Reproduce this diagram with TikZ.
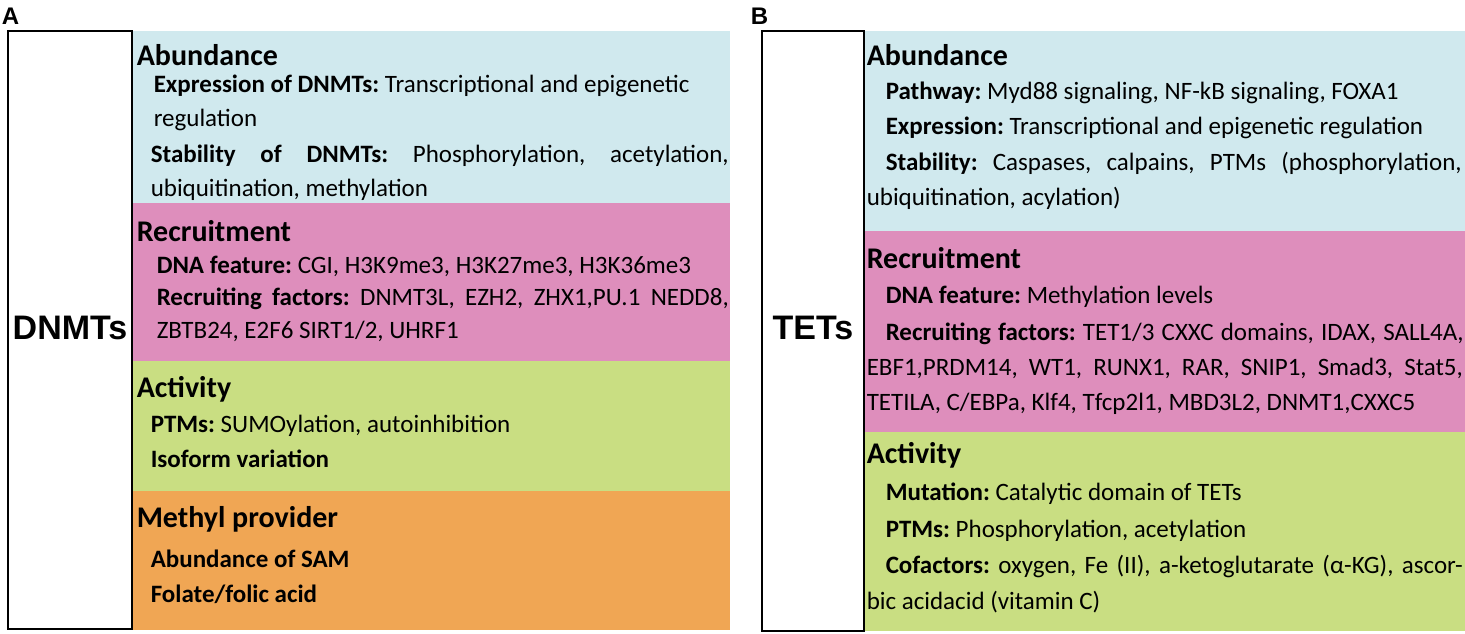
\documentclass[tikz,border=0pt]{standalone}
\usepackage{fontspec}
\setmainfont{Carlito}
\newfontfamily\arialfont{Liberation Sans}
\frenchspacing

\definecolor{abundcol}{HTML}{D0E9EE}
\definecolor{recruitcol}{HTML}{DE8EBC}
\definecolor{activcol}{HTML}{C9DE82}
\definecolor{methylcol}{HTML}{F0A654}

\tikzset{every picture/.style={line width=0.75pt}}
\tikzset{
  headtxt/.style={anchor=base west, inner sep=0pt, font=\fontsize{15}{18}\selectfont\bfseries},
  bodytxt/.style={anchor=base west, inner sep=0pt, font=\fontsize{12.5}{15}\selectfont},
  enzymetxt/.style={inner sep=0pt, font=\arialfont\fontsize{17}{20}\selectfont\bfseries},
  paneltxt/.style={anchor=base west, inner sep=0pt, font=\arialfont\fontsize{12}{14}\selectfont\bfseries},
  enzymebox/.style={draw=black, line width=1pt, fill=white}
}

\begin{document}
\begin{tikzpicture}[x=0.5pt,y=0.5pt,yscale=-1,xscale=1]
\path (0,0) rectangle (1465,633); %set diagram size 1465 x 633

%Shape: Rectangle (panel A bands)
\fill [abundcol] (132,31) rectangle (730,203) ;
\fill [recruitcol] (132,203) rectangle (730,361) ;
\fill [activcol] (132,361) rectangle (730,491) ;
\fill [methylcol] (132,491) rectangle (730,630) ;
%Shape: Rectangle (panel A enzyme box)
\draw [enzymebox] (8,31) rectangle (132,629) ;

%Shape: Rectangle (panel B bands)
\fill [abundcol] (864,31) rectangle (1465,231) ;
\fill [recruitcol] (864,231) rectangle (1465,432) ;
\fill [activcol] (864,432) rectangle (1465,631) ;
%Shape: Rectangle (panel B enzyme box)
\draw [enzymebox] (762,31) rectangle (864,631) ;

% Text Node
\draw (1,24) node (panA) [paneltxt] {A};
% Text Node
\draw (750,24) node (panB) [paneltxt] {B};
% Text Node
\draw (70,328) node (dnmts) [enzymetxt] {DNMTs};
% Text Node
\draw (813,328) node (tets) [enzymetxt] {TETs};

% Text Node
\draw (136,65) node (abA) [headtxt] {Abundance};
% Text Node
\draw (153,92) node (exprA) [bodytxt] {\textbf{Expression of DNMTs:} Transcriptional and epigenetic};
% Text Node
\draw (153,126) node (exprAb) [bodytxt] {regulation};
% Text Node
\draw (150,162) node (stabA) [bodytxt] {\makebox[289pt][s]{\textbf{Stability of DNMTs:} Phosphorylation, acetylation,}};
% Text Node
\draw (150,196) node (stabAb) [bodytxt] {ubiquitination, methylation};

% Text Node
\draw (136,241) node (recA) [headtxt] {Recruitment};
% Text Node
\draw (156,273) node (dnaA) [bodytxt] {\textbf{DNA feature:} CGI, H3K9me3, H3K27me3, H3K36me3};
% Text Node
\draw (156,305) node (rfA) [bodytxt] {\makebox[286pt][s]{\textbf{Recruiting factors:} DNMT3L, EZH2, ZHX1,PU.1 NEDD8,}};
% Text Node
\draw (156,338) node (rfAb) [bodytxt] {ZBTB24, E2F6 SIRT1/2, UHRF1};

% Text Node
\draw (136,397) node (actA) [headtxt] {Activity};
% Text Node
\draw (150,432) node (ptmA) [bodytxt] {\textbf{PTMs:} SUMOylation, autoinhibition};
% Text Node
\draw (150,467) node (isoA) [bodytxt] {\textbf{Isoform variation}};

% Text Node
\draw (136,527) node (metA) [headtxt] {Methyl provider};
% Text Node
\draw (150,567) node (samA) [bodytxt] {\textbf{Abundance of SAM}};
% Text Node
\draw (150,602) node (folA) [bodytxt] {\textbf{Folate/folic acid}};

% Text Node
\draw (866,65) node (abB) [headtxt] {Abundance};
% Text Node
\draw (885,99) node (pathB) [bodytxt] {\textbf{Pathway:} Myd88 signaling, NF-kB signaling, FOXA1};
% Text Node
\draw (885,134) node (exprB) [bodytxt] {\textbf{Expression:} Transcriptional and epigenetic regulation};
% Text Node
\draw (885,170) node (stabB) [bodytxt] {\makebox[288pt][s]{\textbf{Stability:} Caspases, calpains, PTMs (phosphorylation,}};
% Text Node
\draw (866,205) node (stabBb) [bodytxt] {ubiquitination, acylation)};

% Text Node
\draw (866,268) node (recB) [headtxt] {Recruitment};
% Text Node
\draw (885,303) node (dnaB) [bodytxt] {\textbf{DNA feature:} Methylation levels};
% Text Node
\draw (885,340) node (rfB) [bodytxt] {\makebox[289pt][s]{\textbf{Recruiting factors:} TET1/3 CXXC domains, IDAX, SALL4A,}};
% Text Node
\draw (866,375) node (rfBb) [bodytxt] {\makebox[298pt][s]{EBF1,PRDM14, WT1, RUNX1, RAR, SNIP1, Smad3, Stat5,}};
% Text Node
\draw (866,410) node (rfBc) [bodytxt] {TETILA, C/EBPa, Klf4, Tfcp2l1, MBD3L2, DNMT1,CXXC5};

% Text Node
\draw (866,463) node (actB) [headtxt] {Activity};
% Text Node
\draw (885,500) node (mutB) [bodytxt] {\textbf{Mutation:} Catalytic domain of TETs};
% Text Node
\draw (885,537) node (ptmB) [bodytxt] {\textbf{PTMs:} Phosphorylation, acetylation};
% Text Node
\draw (885,573) node (cofB) [bodytxt] {\makebox[288.5pt][s]{\textbf{Cofactors:} oxygen, Fe (II), a-ketoglutarate (α-KG), ascor-}};
% Text Node
\draw (866,609) node (cofBb) [bodytxt] {bic acidacid (vitamin C)};

\end{tikzpicture}
\end{document}
